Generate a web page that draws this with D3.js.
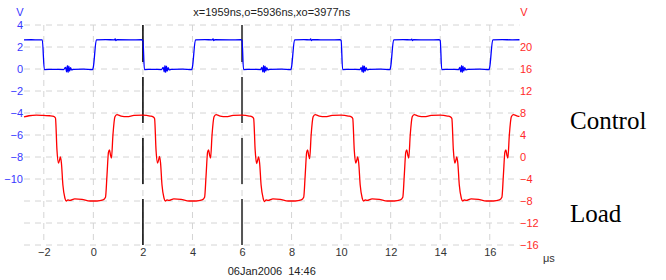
<!DOCTYPE html>
<html>
<head>
<meta charset="utf-8">
<script src="https://cdn.jsdelivr.net/npm/d3@7"></script>
<style>
  body { margin: 0; background: #fff; }
  svg { display: block; font-family: Arial, "Liberation Sans", sans-serif; }
</style>
</head>
<body>
<svg id="chart" width="666" height="280"></svg>
<script>
// 時間軸の目盛り (μs)
var xTicks = [-2, 0, 2, 4, 6, 8, 10, 12, 14, 16];
// 左軸 (Control, V) の目盛り
var leftTicks = [4, 2, 0, -2, -4, -6, -8, -10];
var leftGrid = [4, 2, 0, -2, -4, -6, -8, -10, -12, -14, -16];
// 右軸 (Load, V) の目盛り
var rightTicks = [20, 16, 12, 8, 4, 0, -4, -8, -12, -16];
// カーソル位置 (μs)
var cursors = [2, 6];
var titleText = "x=1959ns,o=5936ns,xo=3977ns";
var dateText = "06Jan2006  14:46";

// Control 波形 [μs, V]
var controlData = [
  [-2.8, 2.65], [-2.5, 2.66], [-2.2, 2.65], [-2.06, 2.65], [-1.98, -0.05],
  [-1.6, -0.03], [-1.2, -0.05], [-1.12, 0.15], [-1.08, -0.25], [-1.05, 0.3], [-1.02, -0.3],
  [-0.99, 0.25], [-0.96, -0.2], [-0.92, 0.12], [-0.88, -0.08], [-0.8, -0.03], [-0.4, -0.02],
  [-0.03, -0.05], [0.0, 0.2], [0.12, 2.65], [0.5, 2.67], [0.85, 2.65], [0.88, 2.74], [0.91, 2.58],
  [0.95, 2.66], [1.5, 2.65], [1.94, 2.66],
  [2.0, 2.6], [2.06, -0.05], [2.4, -0.03], [2.75, -0.05], [2.82, 0.15], [2.86, -0.25], [2.89, 0.3],
  [2.92, -0.3], [2.95, 0.25], [2.98, -0.2], [3.02, 0.12], [3.06, -0.08], [3.15, -0.03], [3.6, -0.02],
  [3.97, -0.05], [4.0, 0.2], [4.12, 2.65], [4.5, 2.67], [4.8, 2.65], [4.83, 2.73], [4.86, 2.58],
  [4.9, 2.66], [5.5, 2.65], [5.95, 2.66],
  [6.0, 2.6], [6.06, -0.05], [6.4, -0.03], [6.75, -0.05], [6.8, 0.15], [6.84, -0.25], [6.87, 0.3],
  [6.9, -0.3], [6.93, 0.25], [6.96, -0.2], [7.0, 0.12], [7.04, -0.08], [7.12, -0.03], [7.6, -0.02],
  [7.97, -0.05], [8.0, 0.2], [8.12, 2.65], [8.5, 2.67], [8.74, 2.65], [8.77, 2.73], [8.8, 2.58],
  [8.84, 2.66], [9.5, 2.65], [9.95, 2.66],
  [10.0, 2.6], [10.06, -0.05], [10.4, -0.03], [10.76, -0.05], [10.81, 0.15], [10.85, -0.25], [10.88, 0.3],
  [10.91, -0.3], [10.94, 0.25], [10.97, -0.2], [11.01, 0.12], [11.05, -0.08], [11.14, -0.03], [11.6, -0.02],
  [11.97, -0.05], [12.0, 0.2], [12.12, 2.65], [12.5, 2.67], [12.82, 2.65], [12.85, 2.72], [12.88, 2.58],
  [12.92, 2.66], [13.5, 2.65], [13.95, 2.66],
  [14.0, 2.6], [14.06, -0.05], [14.4, -0.03], [14.74, -0.05], [14.79, 0.15], [14.83, -0.25], [14.86, 0.3],
  [14.89, -0.3], [14.92, 0.25], [14.95, -0.2], [14.99, 0.12], [15.03, -0.08], [15.12, -0.03], [15.6, -0.02],
  [15.97, -0.05], [16.0, 0.2], [16.12, 2.65], [16.5, 2.67], [16.9, 2.65], [17.2, 2.66]
];

// Load 波形 [μs, V]
var loadData = [
  [-2.8, 7.3], [-2.6, 7.5], [-2.3, 7.6], [-2.0, 7.55], [-1.75, 7.5], [-1.6, 7.4],
  [-1.53, 7.1], [-1.47, 1.3], [-1.41, -1.1], [-1.37, -0.6], [-1.33, 0.0], [-1.29, -1.1], [-1.23, -5.1],
  [-1.15, -7.45], [-1.09, -8.0], [-1.03, -7.8], [-0.95, -7.9], [-0.75, -7.6], [-0.46, -7.7], [-0.14, -8.0],
  [0.15, -8.0], [0.39, -7.8], [0.49, -7.3], [0.55, -3.3], [0.61, 0.9], [0.65, 1.3], [0.69, 0.4],
  [0.73, -0.2], [0.79, 4.0], [0.87, 7.3], [0.95, 7.7], [1.12, 7.45], [1.36, 7.35], [1.64, 7.55],
  [2.0, 7.6], [2.29, 7.45], [2.41, 7.3],
  [2.47, 7.0], [2.53, 1.2], [2.59, -1.1], [2.63, -0.6], [2.67, 0.1], [2.71, -1.0], [2.77, -5.1],
  [2.85, -7.45], [2.91, -8.0], [2.97, -7.8], [3.05, -7.9], [3.25, -7.6], [3.54, -7.7], [3.86, -8.0],
  [4.15, -8.0], [4.39, -7.8], [4.49, -7.3], [4.55, -3.3], [4.61, 0.9], [4.65, 1.3], [4.69, 0.4],
  [4.73, -0.2], [4.79, 4.0], [4.87, 7.3], [4.95, 7.7], [5.12, 7.45], [5.36, 7.35], [5.64, 7.55],
  [6.0, 7.6], [6.29, 7.45], [6.41, 7.3],
  [6.47, 7.0], [6.53, 1.3], [6.59, -1.2], [6.63, -0.6], [6.67, 0.0], [6.71, -1.1], [6.77, -5.1],
  [6.85, -7.45], [6.91, -8.1], [6.97, -7.8], [7.05, -7.9], [7.25, -7.6], [7.54, -7.7], [7.86, -8.0],
  [8.15, -8.0], [8.39, -7.8], [8.49, -7.3], [8.55, -3.3], [8.61, 0.9], [8.65, 1.3], [8.69, 0.3],
  [8.73, -0.3], [8.79, 4.0], [8.87, 7.3], [8.95, 7.7], [9.12, 7.45], [9.36, 7.35], [9.64, 7.55],
  [10.0, 7.6], [10.29, 7.45], [10.41, 7.3],
  [10.47, 7.0], [10.53, 1.3], [10.59, -1.1], [10.63, -0.6], [10.67, 0.0], [10.71, -1.1], [10.77, -5.1],
  [10.85, -7.45], [10.91, -8.0], [10.97, -7.8], [11.05, -7.9], [11.25, -7.6], [11.54, -7.7], [11.86, -8.0],
  [12.15, -8.0], [12.39, -7.8], [12.49, -7.3], [12.55, -3.3], [12.61, 0.9], [12.65, 1.3], [12.69, 0.4],
  [12.73, -0.2], [12.79, 4.0], [12.87, 7.3], [12.95, 7.7], [13.12, 7.45], [13.36, 7.35], [13.64, 7.55],
  [14.0, 7.6], [14.29, 7.45], [14.41, 7.3],
  [14.47, 7.0], [14.53, 1.3], [14.59, -1.1], [14.63, -0.6], [14.67, 0.0], [14.71, -1.1], [14.77, -5.1],
  [14.85, -7.45], [14.91, -8.0], [14.97, -7.8], [15.05, -7.9], [15.25, -7.6], [15.54, -7.7], [15.86, -8.0],
  [16.15, -8.0], [16.39, -7.8], [16.49, -7.3], [16.55, -3.3], [16.61, 0.9], [16.65, 1.3], [16.69, 0.4],
  [16.73, -0.2], [16.79, 4.0], [16.87, 7.3], [16.95, 7.7], [17.12, 7.45], [17.2, 7.4]
];

var svg = d3.select("#chart");

// スケール
var x = d3.scaleLinear().domain([-2.8, 17.2]).range([24, 519.5]);
var yL = d3.scaleLinear().domain([-16, 4]).range([245, 25]);
var yR = d3.scaleLinear().domain([-16, 24]).range([245, 25]);

// グリッド (破線)
svg.append("g")
  .selectAll("line.h")
  .data(leftGrid)
  .enter().append("line")
  .attr("x1", x.range()[0]).attr("x2", x.range()[1])
  .attr("y1", function(d){ return yL(d); })
  .attr("y2", function(d){ return yL(d); })
  .attr("stroke", "#d4d4d4").attr("stroke-dasharray", "6,5");

svg.append("g")
  .selectAll("line.v")
  .data(xTicks)
  .enter().append("line")
  .attr("x1", function(d){ return x(d); })
  .attr("x2", function(d){ return x(d); })
  .attr("y1", yL.range()[1]).attr("y2", yL.range()[0])
  .attr("stroke", "#d4d4d4").attr("stroke-dasharray", "6,5");

// カーソル (途切れ線)
svg.append("g")
  .selectAll("line")
  .data(cursors)
  .enter().append("line")
  .attr("x1", function(d){ return x(d); })
  .attr("x2", function(d){ return x(d); })
  .attr("y1", yL.range()[1]).attr("y2", yL.range()[0])
  .attr("stroke", function(d, i){ return i == 0 ? "#000" : "#555"; })
  .attr("stroke-width", function(d, i){ return i == 0 ? 1.5 : 2; })
  .attr("stroke-dasharray", "37,15,46,15,46,15,46");

// 軸
var xAxis = d3.axisBottom(x).tickValues(xTicks).tickSize(0).tickPadding(0);
var gx = svg.append("g").attr("transform", "translate(0,248)").call(xAxis);
gx.select(".domain").remove();
gx.selectAll("text").attr("dy", "0.71em").attr("font-size", 11).attr("fill", "#333");

var lAxis = d3.axisLeft(yL).tickValues(leftTicks).tickSize(0).tickPadding(0);
var gl = svg.append("g").attr("transform", "translate(23,0)").call(lAxis);
gl.select(".domain").remove();
gl.selectAll("text").attr("font-size", 11).attr("fill", "#3838ff");

var rAxis = d3.axisRight(yR).tickValues(rightTicks).tickSize(0).tickPadding(0);
var gr = svg.append("g").attr("transform", "translate(520,0)").call(rAxis);
gr.select(".domain").remove();
gr.selectAll("text").attr("font-size", 11).attr("fill", "#ff2a2a");

// 単位
svg.append("text").attr("x", 20).attr("y", 16).attr("text-anchor", "middle")
  .attr("font-size", 11).attr("fill", "#3838ff").text("V");
svg.append("text").attr("x", 524).attr("y", 16).attr("text-anchor", "middle")
  .attr("font-size", 11).attr("fill", "#ff2a2a").text("V");
svg.append("text").attr("x", 543).attr("y", 262)
  .attr("font-size", 11).attr("fill", "#333").text("μs");

// タイトルと日付
var cx = (x.range()[0] + x.range()[1]) / 2;
svg.append("text").attr("x", cx).attr("y", 16).attr("text-anchor", "middle")
  .attr("font-size", 11).attr("fill", "#222").text(titleText);
svg.append("text").attr("x", cx).attr("y", 275).attr("text-anchor", "middle")
  .attr("font-size", 11).attr("fill", "#222").attr("xml:space", "preserve")
  .style("white-space", "pre").text(dateText);

// 波形
var lineL = d3.line()
  .x(function(d){ return x(d[0]); })
  .y(function(d){ return yL(d[1]); })
  .curve(d3.curveMonotoneX);
var lineR = d3.line()
  .x(function(d){ return x(d[0]); })
  .y(function(d){ return yR(d[1]); })
  .curve(d3.curveMonotoneX);

svg.append("path").datum(loadData)
  .attr("d", lineR).attr("fill", "none")
  .attr("stroke", "#ff0000").attr("stroke-width", 1.3);
svg.append("path").datum(controlData)
  .attr("d", lineL).attr("fill", "none")
  .attr("stroke", "#0000ff").attr("stroke-width", 1.3);

// 右側のラベル
svg.append("text").attr("x", 570).attr("y", 129)
  .attr("font-family", "'Liberation Serif', 'Times New Roman', serif")
  .attr("font-size", 25).attr("fill", "#000").text("Control");
svg.append("text").attr("x", 570).attr("y", 222)
  .attr("font-family", "'Liberation Serif', 'Times New Roman', serif")
  .attr("font-size", 25).attr("fill", "#000").text("Load");
</script>
</body>
</html>
